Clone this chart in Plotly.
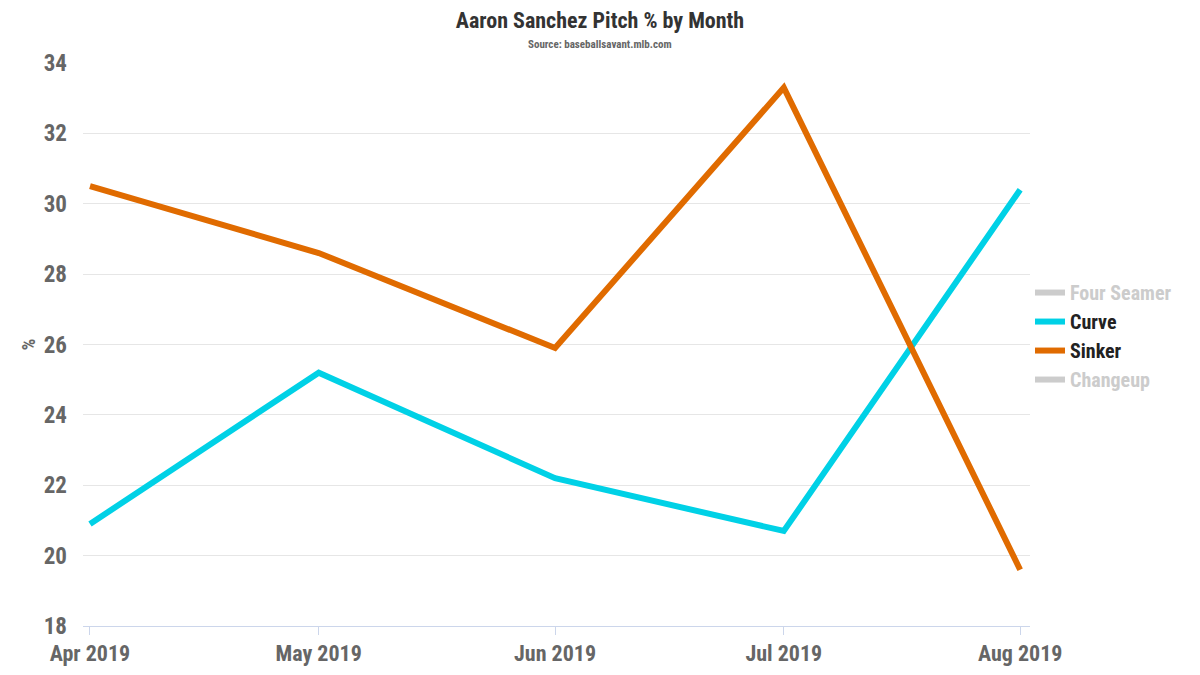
import plotly.graph_objects as go

months = ["2019-04-01", "2019-05-01", "2019-06-01", "2019-07-01", "2019-08-01"]
month_labels = ["Apr 2019", "May 2019", "Jun 2019", "Jul 2019", "Aug 2019"]
curve = [20.9, 25.2, 22.2, 20.7, 30.4]
sinker = [30.5, 28.6, 25.9, 33.3, 19.6]
y_ticks = [18, 20, 22, 24, 26, 28, 30, 32, 34]

FONT = "Roboto Condensed, Roboto, sans-serif"

fig = go.Figure()
# Hidden series in the reference (values not shown): legend entries only
fig.add_trace(go.Scatter(x=[months[0]], y=[None], mode="lines",
                         name="<span style='color:#cccccc'>Four Seamer</span>",
                         line=dict(color="#cccccc", width=6)))
fig.add_trace(go.Scatter(x=months, y=curve, mode="lines", name="Curve",
                         line=dict(color="#00d1e6", width=6)))
fig.add_trace(go.Scatter(x=months, y=sinker, mode="lines", name="Sinker",
                         line=dict(color="#e06b00", width=6)))
fig.add_trace(go.Scatter(x=[months[0]], y=[None], mode="lines",
                         name="<span style='color:#cccccc'>Changeup</span>",
                         line=dict(color="#cccccc", width=6)))

fig.update_layout(
    width=1200, height=675,
    paper_bgcolor="white", plot_bgcolor="white",
    margin=dict(l=75, r=178, t=55, b=57),
    font=dict(family=FONT, color="#666666"),
    title=dict(
        text="<b>Aaron Sanchez Pitch % by Month</b>",
        x=(600 - 8) / 1200, xanchor="center", xref="container",
        y=1 - 12 / 675, yanchor="middle", yref="container",
        font=dict(family=FONT, size=22, color="#333333"),
    ),
    annotations=[dict(
        text="<b>Source: baseballsavant.mlb.com</b>",
        x=(600 - 83) / 947, xref="paper", xanchor="center",
        y=(626 - 45) / 563, yref="paper", yanchor="middle",
        showarrow=False, font=dict(family=FONT, size=11, color="#666666"),
    )],
    showlegend=True,
    legend=dict(
        x=1.0, xanchor="left", y=0.515, yanchor="middle",
        font=dict(family=FONT, size=20, color="#222222", weight="bold"),
        itemwidth=30, tracegroupgap=0, bgcolor="rgba(0,0,0,0)",
    ),
    xaxis=dict(
        type="date",
        range=["2019-03-31 02:00", "2019-08-02 07:00"],
        tickvals=months, ticktext=month_labels,
        tickfont=dict(family=FONT, size=22, color="#666666", weight="bold"),
        showgrid=False, zeroline=False,
        showline=True, linecolor="#ccd6eb", linewidth=1,
        ticks="outside", ticklen=8, tickcolor="#ccd6eb",
    ),
    yaxis=dict(
        range=[18, 34], tickvals=y_ticks,
        tickfont=dict(family=FONT, size=23, color="#666666", weight="bold"),
        showgrid=True, gridcolor="#e6e6e6", gridwidth=1,
        zeroline=False, showline=False, ticks="",
        ticklabelstandoff=15,
        title=dict(text="<b>%</b>", font=dict(family=FONT, size=18, color="#666666"), standoff=3),
    ),
)

fig.write_html("out.html")
